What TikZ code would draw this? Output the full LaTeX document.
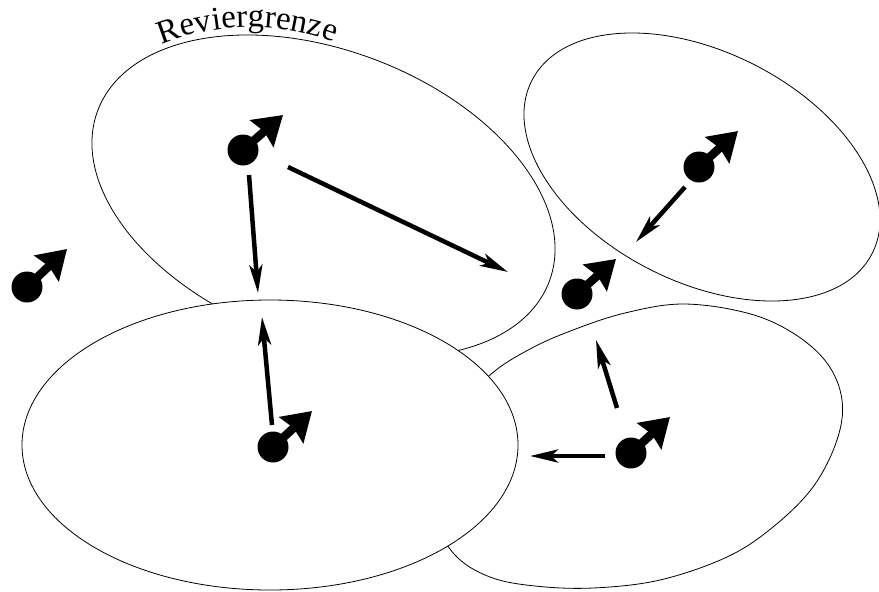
\documentclass[tikz,border=0pt]{standalone}
\usepackage{fontspec}
\setmainfont{Liberation Serif}
\usetikzlibrary{arrows.meta,decorations.text}
\begin{document}
\begin{tikzpicture}[x=1pt,y=-1pt,
  territory/.style={line width=0.8pt, draw=black},
  animal/.style={circle, fill=black, minimum size=31pt, inner sep=0pt},
  heading/.style={line width=8.5pt, -{Stealth[length=28pt,width=35pt,inset=3pt]}},
  move/.style={line width=4.5pt, -{Stealth[length=28pt,width=13pt,inset=7pt]}}]
\useasboundingbox (0,0) rectangle (879,592);

% territories (the lower left one is filled and covers the others)
\draw[territory, rotate around={-20.8:(323.5,196)}] (323.5,196) ellipse [x radius=241.4, y radius=145.8];
\draw[territory, rotate around={-26.9:(702,167)}] (702,167) ellipse [x radius=190.9, y radius=114.9];
\draw[territory] plot[smooth cycle, tension=0.6] coordinates {(683,304) (747,313) (793,333) (827,363) (842,400) (837,440) (813,487) (773,527) (727,557) (660,580) (593,588) (535,586) (490,577) (455,555) (432,515) (430,470) (448,420) (490,375) (530,349) (573,330) (625,313)};
\draw[territory, fill=white] (270,445) ellipse [x radius=248, y radius=145];

% label along the upper boundary
\path[decorate, decoration={text along path, text align=center,
  text={|\fontsize{33}{33}\selectfont|Reviergrenze}}]
  (156,47) .. controls (215,21) and (280,21) .. (340,44);

% animals with their heading
\node[animal] (m1) at (243,150) {};
\node[animal] (m2) at (27,287) {};
\node[animal] (m3) at (699,167) {};
\node[animal] (m4) at (577,294) {};
\node[animal] (m5) at (273,447) {};
\node[animal] (m6) at (631,453) {};
\coordinate (h1) at (283,115);
\coordinate (h2) at (67,249);
\coordinate (h3) at (738,131);
\coordinate (h4) at (616,259);
\coordinate (h5) at (312,411);
\coordinate (h6) at (670,417);
\foreach \i in {1,...,6} \draw[heading] (m\i.center) -- (h\i);

% movements
\coordinate (a1s) at (249,175); \coordinate (a1e) at (258,293);
\coordinate (a2s) at (288,167); \coordinate (a2e) at (508,272);
\coordinate (a3s) at (272,425); \coordinate (a3e) at (262,317);
\coordinate (a4s) at (685,187); \coordinate (a4e) at (636,242);
\coordinate (a5s) at (617,408); \coordinate (a5e) at (596,340);
\coordinate (a6s) at (605,456); \coordinate (a6e) at (530,456);
\foreach \i in {1,...,6} \draw[move] (a\i s) -- (a\i e);
\end{tikzpicture}
\end{document}
